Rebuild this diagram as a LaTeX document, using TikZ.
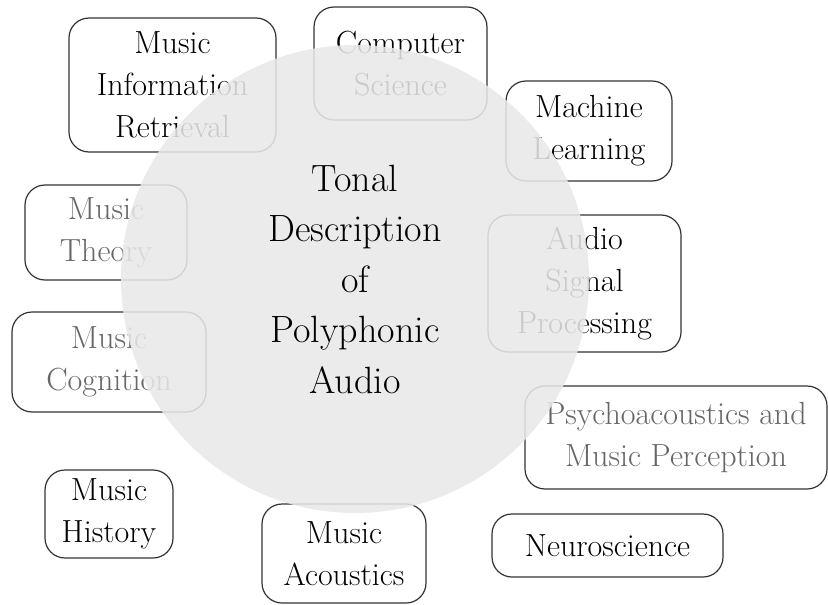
\documentclass[tikz,border=0pt]{standalone}
\usepackage{fontspec}
\definecolor{boxline}{HTML}{333333}
\definecolor{softtext}{HTML}{666666}
\definecolor{hubfill}{HTML}{E8E8E8}
\begin{document}
\begin{tikzpicture}[x=1pt,y=-1pt,
  field/.style={draw=boxline, line width=1.2pt, rounded corners=20pt,
    align=center, inner sep=0pt, text=black,
    font=\fontsize{32}{42}\selectfont},
  softfield/.style={field, text=softtext},
  hub/.style={circle, inner sep=0pt, minimum size=468pt,
    fill=hubfill, fill opacity=0.87, text opacity=1, text=black,
    align=center, font=\fontsize{38}{50.5}\selectfont}]
\useasboundingbox (0,0) rectangle (828,605);

% surrounding research fields
\node[field, minimum width=207pt, minimum height=134pt] (mir) at (172.5,85)
  {Music\\Information\\Retrieval};
\node[field, minimum width=173pt, minimum height=113pt] (cs) at (400.5,63.5)
  {Computer\\Science};
\node[field, minimum width=166pt, minimum height=100pt] (ml) at (589,131)
  {Machine\\Learning};
\node[field, minimum width=193pt, minimum height=137pt] (asp) at (584.5,283.5)
  {Audio\\Signal\\Processing};
\node[softfield, minimum width=302pt, minimum height=103pt] (psy) at (676,437.5)
  {Psychoacoustics and\\Music Perception};
\node[field, minimum width=231pt, minimum height=63pt] (neuro) at (607.5,545.5)
  {Neuroscience};
\node[field, minimum width=164pt, minimum height=99pt] (acou) at (344,553.5)
  {Music\\Acoustics};
\node[field, minimum width=128pt, minimum height=88pt] (hist) at (109,514)
  {Music\\History};
\node[softfield, minimum width=194pt, minimum height=100pt] (cogn) at (109,362)
  {Music\\Cognition};
\node[softfield, minimum width=162pt, minimum height=95pt] (theory) at (106,232.5)
  {Music\\Theory};

% central topic, laid over the fields
\node[hub] (topic) at (355,279)
  {Tonal\\Description\\of\\Polyphonic\\Audio};
\end{tikzpicture}
\end{document}
